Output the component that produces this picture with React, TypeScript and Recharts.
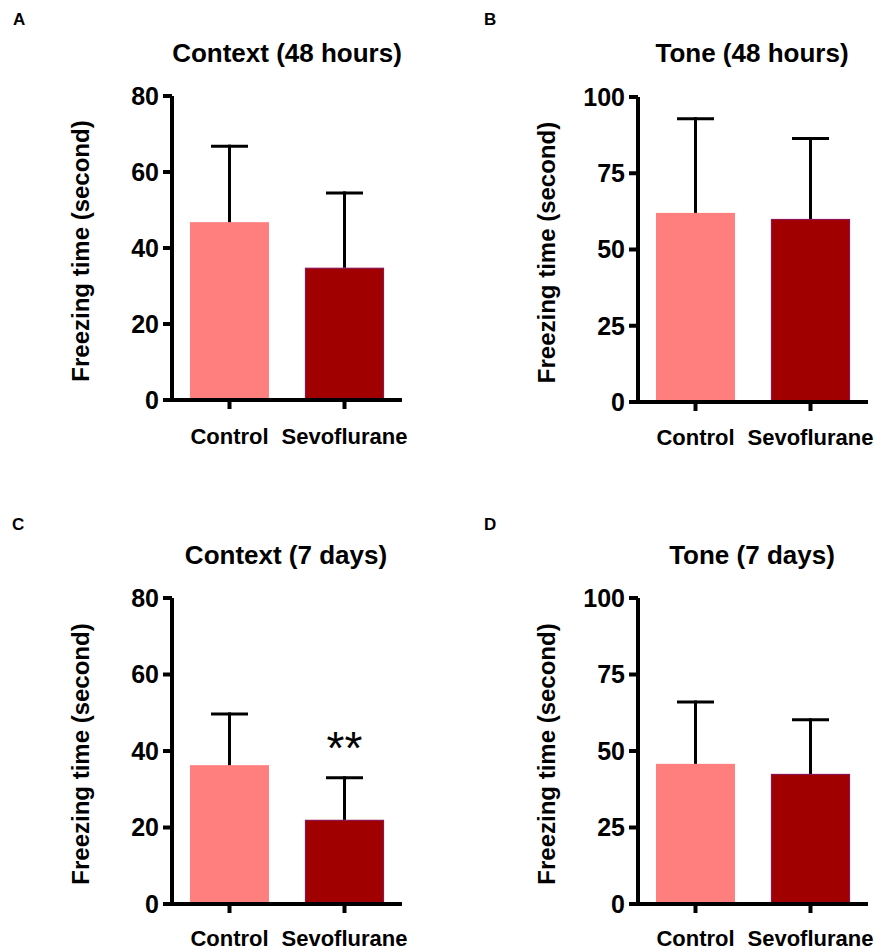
import React from 'react';
import { BarChart, Bar, XAxis, YAxis } from 'recharts';

// Freezing time (seconds), mean and upper SEM per group
const categories = ['Control', 'Sevoflurane'];

const context48hMean = [46.8, 34.8];
const context48hSem = [20.0, 19.7];

const tone48hMean = [62.0, 60.0];
const tone48hSem = [30.9, 26.4];

const context7dMean = [36.3, 22.0];
const context7dSem = [13.4, 11.0];

const tone7dMean = [45.8, 42.5];
const tone7dSem = [20.2, 17.7];

// significance marks drawn above the whiskers
const context7dMarks = ['', '**'];
const noMarks = ['', ''];

const contextTicks = [0, 20, 40, 60, 80];
const toneTicks = [0, 25, 50, 75, 100];

const barFills = ['#FF7F7F', '#A00000'];
const barEdges = ['none', '#8C1450'];

const FONT = '"Liberation Sans", Arial, Helvetica, sans-serif';

type Row = { name: string; mean: number; sem: number; mark: string; fill: string; edge: string };

const buildRows = (means: number[], sems: number[], marks: string[]): Row[] =>
  categories.map((name, i) => ({
    name,
    mean: means[i],
    sem: sems[i],
    mark: marks[i],
    fill: barFills[i],
    edge: barEdges[i],
  }));

// bar rectangle plus a one-sided (upward) SEM whisker
const BarWithWhisker = (props: any) => {
  const { x, y, width, height, payload } = props;
  const ppu = payload.mean > 0 ? height / payload.mean : 0;
  const topY = y - payload.sem * ppu;
  const cx = x + width / 2;
  const capHalf = 18.5;
  const hasEdge = payload.edge !== 'none';
  return (
    <g>
      <rect
        x={hasEdge ? x + 0.5 : x}
        y={hasEdge ? y + 0.5 : y}
        width={hasEdge ? width - 1 : width}
        height={hasEdge ? height - 0.5 : height}
        fill={payload.fill}
        stroke={hasEdge ? payload.edge : 'none'}
        strokeWidth={hasEdge ? 1.2 : 0}
      />
      <line x1={cx} y1={y} x2={cx} y2={topY - 1.5} stroke="#000" strokeWidth={3} />
      <line x1={cx - capHalf} y1={topY} x2={cx + capHalf} y2={topY} stroke="#000" strokeWidth={3} />
      {payload.mark ? (
        <text
          x={cx}
          y={topY - 14}
          textAnchor="middle"
          fontFamily={FONT}
          fontWeight={400}
          fontSize={46}
          fill="#000"
        >
          {payload.mark}
        </text>
      ) : null}
    </g>
  );
};

const yAxisTitle = (props: any) => {
  const vb = props.viewBox;
  const cx = vb.x + vb.width - 91.5;
  const cy = vb.y + vb.height / 2 + 3;
  return (
    <text
      x={cx}
      y={cy}
      transform={`rotate(-90, ${cx}, ${cy})`}
      textAnchor="middle"
      dominantBaseline="central"
      fontFamily={FONT}
      fontWeight={700}
      fontSize={24}
      fill="#000"
    >
      Freezing time (second)
    </text>
  );
};

type PanelProps = {
  left: number;
  top: number;
  width: number;
  height: number;
  marginTop: number;
  marginRight: number;
  yWidth: number;
  xHeight: number;
  xTickMargin: number;
  yMax: number;
  ticks: number[];
  rows: Row[];
};

const Panel = (p: PanelProps) => (
  <div style={{ position: 'absolute', left: p.left, top: p.top, width: p.width, height: p.height }}>
    <BarChart
      width={p.width}
      height={p.height}
      data={p.rows}
      margin={{ top: p.marginTop, right: p.marginRight, bottom: 0, left: 0 }}
      barCategoryGap={0}
    >
      <XAxis
        dataKey="name"
        interval={0}
        height={p.xHeight}
        axisLine={{ stroke: '#000', strokeWidth: 4 }}
        tickLine={{ stroke: '#000', strokeWidth: 4 }}
        tickSize={9}
        tickMargin={p.xTickMargin}
        tick={{ fill: '#000', fontSize: 22, fontWeight: 700, fontFamily: FONT }}
      />
      <YAxis
        type="number"
        domain={[0, p.yMax]}
        ticks={p.ticks}
        interval={0}
        width={p.yWidth}
        axisLine={{ stroke: '#000', strokeWidth: 4 }}
        tickLine={{ stroke: '#000', strokeWidth: 4 }}
        tickSize={9}
        tickMargin={4}
        tick={{ fill: '#000', fontSize: 25, fontWeight: 700, fontFamily: FONT }}
        label={yAxisTitle}
      />
      <Bar dataKey="mean" barSize={79} shape={BarWithWhisker} isAnimationActive={false} />
    </BarChart>
  </div>
);

const titleStyle = { fontFamily: FONT, fontWeight: 700, fontSize: 26, fill: '#000' } as const;
const letterStyle = { fontFamily: FONT, fontWeight: 700, fontSize: 17, fill: '#000' } as const;

export default function App() {
  return (
    <div style={{ position: 'absolute', left: 0, top: 0, width: 877, height: 950, background: '#fff' }}>
      <Panel left={0} top={0} width={440} height={460} marginTop={96} marginRight={38}
        yWidth={172} xHeight={60} xTickMargin={19} yMax={80} ticks={contextTicks}
        rows={buildRows(context48hMean, context48hSem, noMarks)} />
      <Panel left={440} top={0} width={437} height={460} marginTop={97} marginRight={9}
        yWidth={198} xHeight={58} xTickMargin={18} yMax={100} ticks={toneTicks}
        rows={buildRows(tone48hMean, tone48hSem, noMarks)} />
      <Panel left={0} top={490} width={440} height={460} marginTop={108} marginRight={38}
        yWidth={172} xHeight={46} xTickMargin={17} yMax={80} ticks={contextTicks}
        rows={buildRows(context7dMean, context7dSem, context7dMarks)} />
      <Panel left={440} top={490} width={437} height={460} marginTop={108} marginRight={9}
        yWidth={198} xHeight={46} xTickMargin={17} yMax={100} ticks={toneTicks}
        rows={buildRows(tone7dMean, tone7dSem, noMarks)} />

      <svg width={877} height={950} style={{ position: 'absolute', left: 0, top: 0, pointerEvents: 'none' }}>
        <text x={13} y={25} {...letterStyle}>A</text>
        <text x={484} y={25} {...letterStyle}>B</text>
        <text x={12} y={530} {...letterStyle}>C</text>
        <text x={484} y={530} {...letterStyle}>D</text>

        <text x={287} y={62} textAnchor="middle" {...titleStyle}>Context (48 hours)</text>
        <text x={752} y={62} textAnchor="middle" {...titleStyle}>Tone (48 hours)</text>
        <text x={286} y={564} textAnchor="middle" {...titleStyle}>Context (7 days)</text>
        <text x={752} y={564} textAnchor="middle" {...titleStyle}>Tone (7 days)</text>
      </svg>
    </div>
  );
}
